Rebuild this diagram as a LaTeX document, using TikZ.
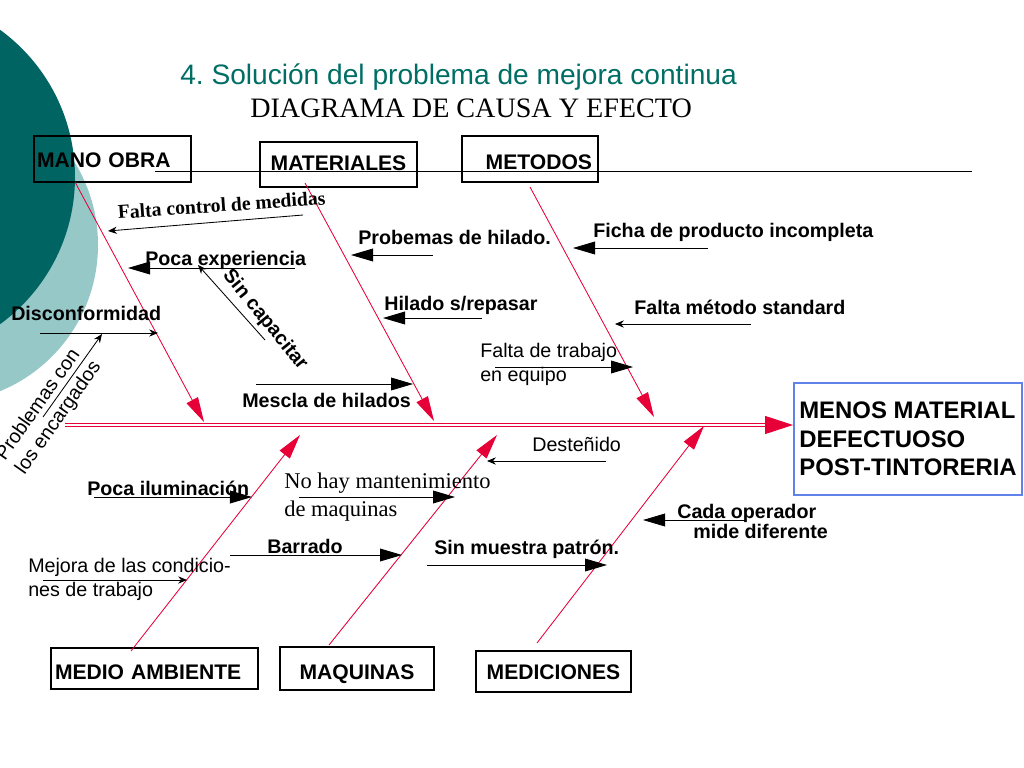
\documentclass[tikz,border=0pt]{standalone}
\usepackage{fontspec}
\setmainfont{Liberation Serif}
\setsansfont{Liberation Sans}
\usetikzlibrary{arrows.meta}
\definecolor{tealdark}{RGB}{0,100,98}
\definecolor{teallight}{RGB}{150,200,200}
\definecolor{titleteal}{RGB}{0,110,100}
\definecolor{bonered}{RGB}{230,0,55}
\definecolor{effectblue}{RGB}{95,130,235}
\frenchspacing
\begin{document}
\begin{tikzpicture}[x=0.025cm, y=-0.025cm,
  catbox/.style={draw, line width=0.9pt, font=\sffamily\bfseries\fontsize{15}{18}\selectfont, inner sep=0pt, text depth=0pt},
  efecto/.style={draw=effectblue, line width=1.4pt, align=left, inner sep=0pt, font=\sffamily\bfseries\fontsize{17}{20.3}\selectfont},
  espina/.style={draw=bonered, line width=0.7pt, double=white, double distance=1.6pt},
  bone/.style={draw=bonered, line width=0.6pt, -{Triangle[length=0.62cm, width=0.32cm]}},
  flecha/.style={draw, line width=0.6pt, -{Triangle[length=0.55cm, width=0.32cm]}},
  flechita/.style={draw, line width=0.6pt, -{Stealth[length=0.22cm, width=0.18cm]}},
  etq/.style={font=\sffamily\bfseries\fontsize{14}{14.3}\selectfont, inner sep=0pt},
  etqn/.style={font=\sffamily\fontsize{14}{17}\selectfont, inner sep=0pt},
  etqs/.style={font=\rmfamily\bfseries\fontsize{14}{17}\selectfont, inner sep=0pt},
  etqt/.style={font=\rmfamily\fontsize{16}{19.3}\selectfont, inner sep=0pt}]
% Pixel unit of the slide
\def\px{0.025cm}

% Background circles
\useasboundingbox (0,0) rectangle (1024,768);
\begin{scope}
\clip (0,0) rectangle (1024,768);
\fill[teallight] (-60,245) circle[radius=158];
\fill[tealdark] (-107,177) circle[radius=182];
\end{scope}

% Titles
\node[font=\sffamily\fontsize{20}{24}\selectfont, text=titleteal, anchor=base west, inner sep=0pt] (titulo) at (180,85) {4. Solución del problema de mejora continua};
\node[font=\rmfamily\fontsize{20}{24}\selectfont, anchor=base west, inner sep=0pt] (subtitulo) at (250,118) {DIAGRAMA DE CAUSA Y EFECTO};

% Category boxes
\node[catbox, minimum width=157*\px, minimum height=46*\px, text width=151*\px, align=left, text height=18*\px] (mano) at (112.5,159) {MANO OBRA};
\node[catbox, minimum width=157*\px, minimum height=45*\px, text height=15*\px, text depth=3*\px] (materiales) at (338.5,164.5) {MATERIALES};
\node[catbox, minimum width=136*\px, minimum height=46*\px, text width=124*\px, align=right, text height=22*\px] (metodos) at (530,159) {METODOS};
\node[catbox, minimum width=207*\px, minimum height=41*\px, text width=199*\px, align=left, text height=21*\px] (medio) at (154.5,668.5) {MEDIO AMBIENTE};
\node[catbox, minimum width=154*\px, minimum height=43*\px, text height=21*\px] (maquinas) at (357,668.5) {MAQUINAS};
\node[catbox, minimum width=155*\px, minimum height=41*\px, text height=15*\px] (mediciones) at (553.5,671.5) {MEDICIONES};
\node[efecto, minimum width=228*\px, minimum height=112*\px] (efecto) at (908,439) {MENOS MATERIAL\\DEFECTUOSO\\POST-TINTORERIA};

% Top line
\coordinate (lineaA) at (155,171);
\coordinate (lineaB) at (972,171);
\draw[line width=0.6pt] (lineaA) -- (lineaB);

% Spine
\coordinate (espinaA) at (65,425);
\coordinate (espinaB) at (766,425);
\draw[espina] (espinaA) -- (espinaB);
\draw[bonered, line width=0.7pt, -{Triangle[length=0.7cm, width=0.45cm]}] (espinaB) -- (espinaB -| efecto.west);

% Main bones
\coordinate (manoA) at (75,182);   \coordinate (manoB) at (204,422);
\coordinate (mateA) at (305,183);  \coordinate (mateB) at (434,421);
\coordinate (metoA) at (530,187);  \coordinate (metoB) at (654,417);
\coordinate (medioA) at (131,651); \coordinate (medioB) at (300,435);
\coordinate (maquA) at (329,645);  \coordinate (maquB) at (497,435);
\coordinate (mediA) at (537,643);  \coordinate (mediB) at (704,426);
\draw[bone] (manoA) -- (manoB);
\draw[bone] (mateA) -- (mateB);
\draw[bone] (metoA) -- (metoB);
\draw[bone] (medioA) -- (medioB);
\draw[bone] (maquA) -- (maquB);
\draw[bone] (mediA) -- (mediB);

% Mano obra causes
\node[etqs, anchor=base west, rotate=4] (fcontrol) at (118,219) {Falta control de medidas};
\node[etq, anchor=base west] (pexp) at (145,265) {Poca experiencia};
\node[etq, rotate=-51] (scap) at (265,320) {Sin capacitar};
\node[etq, anchor=base west] (disc) at (11,320) {Disconformidad};
\node[etqn, rotate=55, align=left] (penc) at (49,411) {Problemas con\\los encargados};
\coordinate (fcontrolA) at (303,215); \coordinate (fcontrolB) at (108,231);
\coordinate (pexpA) at (295,268);     \coordinate (pexpB) at (128,268);
\coordinate (scapA) at (265,340);     \coordinate (scapB) at (198,265);
\coordinate (discA) at (40,333);      \coordinate (discB) at (158,333);
\coordinate (pencA) at (43,417);      \coordinate (pencB) at (102,334);
\draw[flechita] (fcontrolA) -- (fcontrolB);
\draw[flecha] (pexpA) -- (pexpB);
\draw[flechita] (scapA) -- (scapB);
\draw[flechita] (discA) -- (discB);
\draw[flechita] (pencA) -- (pencB);

% Materiales causes
\node[etq, anchor=base west] (philado) at (358,244) {Probemas de hilado.};
\node[etq, anchor=base west] (hrep) at (384,310) {Hilado s/repasar};
\node[etq, anchor=base west] (mescla) at (242,407) {Mescla de hilados};
\node[etqn, anchor=north west, align=left] (ftrabajo) at (480,343) {Falta de trabajo\\en equipo};
\coordinate (philadoA) at (433,255); \coordinate (philadoB) at (351,255);
\coordinate (hrepA) at (482,318);    \coordinate (hrepB) at (383,318);
\coordinate (mesclaA) at (256,384);  \coordinate (mesclaB) at (413,384);
\coordinate (ftrabajoA) at (495,367); \coordinate (ftrabajoB) at (633,367);
\draw[flecha] (philadoA) -- (philadoB);
\draw[flecha] (hrepA) -- (hrepB);
\draw[flecha] (mesclaA) -- (mesclaB);
\draw[flecha] (ftrabajoA) -- (ftrabajoB);

% Metodos causes
\node[etq, anchor=base west] (ficha) at (593,237) {Ficha de producto incompleta};
\node[etq, anchor=base west] (fmetodo) at (634,314) {Falta método standard};
\coordinate (fichaA) at (708,248);   \coordinate (fichaB) at (573,248);
\coordinate (fmetodoA) at (751,324); \coordinate (fmetodoB) at (615,324);
\draw[flecha] (fichaA) -- (fichaB);
\draw[flechita] (fmetodoA) -- (fmetodoB);

% Medio ambiente causes
\node[etq, anchor=base west] (pilum) at (87,495) {Poca iluminación};
\node[etqn, anchor=north west, align=left] (mejora) at (28,558) {Mejora de las condicio-\\nes de trabajo};
\node[etq, anchor=base west] (barrado) at (267,553) {Barrado};
\coordinate (pilumA) at (94,497);    \coordinate (pilumB) at (252,497);
\coordinate (mejoraA) at (43,580);   \coordinate (mejoraB) at (187,580);
\coordinate (barradoA) at (230,555); \coordinate (barradoB) at (402,555);
\draw[flecha] (pilumA) -- (pilumB);
\draw[flechita] (mejoraA) -- (mejoraB);
\draw[flecha] (barradoA) -- (barradoB);

% Maquinas causes
\node[etqt, anchor=north west, align=left] (nohay) at (284,473) {No hay mantenimiento\\de maquinas};
\node[etq, anchor=base west] (smuestra) at (434,554) {Sin muestra patrón.};
\node[etqn, anchor=base west] (destenido) at (532,451) {Desteñido};
\coordinate (nohayA) at (299,497);    \coordinate (nohayB) at (455,497);
\coordinate (smuestraA) at (427,565); \coordinate (smuestraB) at (607,565);
\coordinate (destenidoA) at (606,461); \coordinate (destenidoB) at (487,461);
\draw[flecha] (nohayA) -- (nohayB);
\draw[flecha] (smuestraA) -- (smuestraB);
\draw[flechita] (destenidoA) -- (destenidoB);

% Mediciones causes
\node[etq, anchor=north west, align=left] (cada) at (677,504) {Cada operador\\\hspace*{0.4cm}mide diferente};
\coordinate (cadaA) at (745,520); \coordinate (cadaB) at (643,520);
\draw[flecha] (cadaA) -- (cadaB);
\end{tikzpicture}
\end{document}
